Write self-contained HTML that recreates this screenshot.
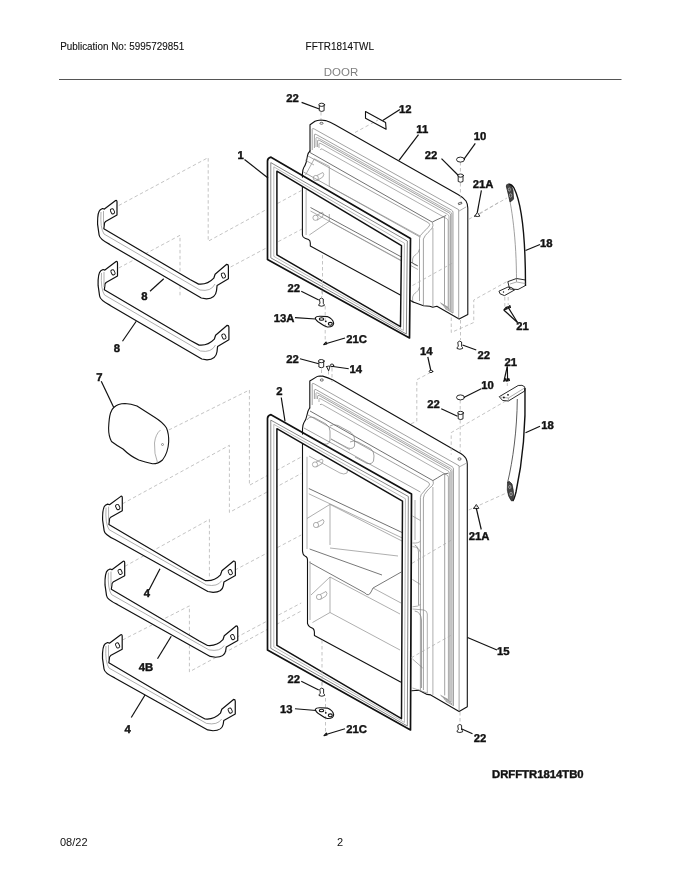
<!DOCTYPE html>
<html><head><meta charset="utf-8"><style>
html,body{margin:0;padding:0;background:#fff;}
body{width:680px;height:880px;overflow:hidden;position:relative;font-family:"Liberation Sans",sans-serif;}
svg{position:absolute;left:0;top:0;will-change:transform;}
.k{stroke:#111;stroke-width:1.1;fill:none;stroke-linejoin:round;stroke-linecap:round;}
.sh{stroke-width:1.2;fill:#fff;}
.th{stroke-width:0.9;}
.gk{stroke-width:1.7;}
.gs1{stroke:#777;stroke-width:0.9;fill:none;}
.gs2{stroke:#aaa;stroke-width:0.8;fill:none;}
.gi{stroke-width:1.5;}
.t{stroke:#333;stroke-width:0.7;fill:none;}
.g{stroke:#8c8c8c;stroke-width:0.7;fill:none;}
.g2{stroke:#7a7a7a;stroke-width:0.7;fill:none;}
.t2{stroke:#555;stroke-width:0.8;fill:none;}
.d{stroke:#aaa;stroke-width:0.7;fill:none;stroke-dasharray:3.5 2.5;}
.ld{stroke:#111;stroke-width:1.2;fill:none;}
.lb{text-rendering:geometricPrecision;stroke:#111;stroke-width:0.4;font-family:"Liberation Sans",sans-serif;font-weight:bold;font-size:11.3px;fill:#111;}
.hd{font-family:"Liberation Sans",sans-serif;font-size:11px;fill:#111;}
</style></head><body>
<svg width="680" height="880" viewBox="0 0 680 880">
<text x="60.2" y="49.8" textLength="124" lengthAdjust="spacingAndGlyphs" style="font-family:'Liberation Sans',sans-serif;font-size:11.1px;fill:#111;stroke:#111;stroke-width:0.12">Publication No: 5995729851</text>
<text x="305.6" y="49.8" textLength="68.4" lengthAdjust="spacingAndGlyphs" style="font-family:'Liberation Sans',sans-serif;font-size:11.1px;fill:#111;stroke:#111;stroke-width:0.12">FFTR1814TWL</text>
<text x="323.8" y="75.6" textLength="34.4" lengthAdjust="spacingAndGlyphs" style="font-family:'Liberation Sans',sans-serif;font-size:11.6px;fill:#808080;">DOOR</text>
<line x1="59" y1="79.5" x2="621.5" y2="79.5" stroke="#555" stroke-width="1"/>
<text class="hd" x="60" y="845.5">08/22</text>
<text class="hd" x="337" y="845.5">2</text>
<text x="492" y="777.5" class="lb" style="font-size:11.3px">DRFFTR1814TB0</text>
<polyline class="d" points="118.75,205.5 208.2,157.6 208.2,241.2 301.2,190.6"/>
<polyline class="d" points="230.6,267 303.5,228.2"/>
<polyline class="d" points="118.75,268 180,235.3 180,295.3"/>
<polyline class="d" points="168.75,430 249.4,390 249.4,485.3 301.2,457"/>
<polyline class="d" points="122.5,503.75 229.4,445.3 229.4,512.4 301.2,473.5"/>
<polyline class="d" points="235,570 301.2,535"/>
<polyline class="d" points="125,566.25 209.4,519.4 209.4,577.6"/>
<polyline class="d" points="236.25,637.5 301.2,603"/>
<polyline class="d" points="122.5,640 189.4,605.9 189.4,671.8 301.2,611"/>
<path class="k sh" d="M117,215 L105.6,221.5 Q104,223 104.4,224.5 L103.8,228.8 L190,279.5 L198.6,284.1 Q207.5,285 213.8,278.2 L215.1,274.2 L226.7,264.3 Q228.4,264.3 228.4,266 L228.4,278.8 L217.1,285.4 L216.5,290.7 Q215.5,298.5 206.5,298.8 L201.3,298 L109.7,244.4 Q99.5,239 99.1,235 L97.6,224.4 Q97.3,212 100.3,209.7 L102.6,208.5 L104.4,209.1 L115.6,200.6 Q117,200 117,202 Z"/>
<path class="g" d="M101,212 Q100,228 104,234 L200,290 Q211,292 215,284"/>
<path class="g" d="M103.5,211 L103.5,226"/>
<rect class="k th" x="110.8" y="208.7" width="3.4" height="5.2" rx="1.5" transform="rotate(-25 112.5 211.3)"/>
<rect class="k th" x="221.7" y="272.9" width="3.4" height="5.2" rx="1.5" transform="rotate(-25 223.4 275.5)"/>
<path class="k sh" d="M117.5,276 L106.1,282.5 Q104.5,284 104.9,285.5 L104.3,289.8 L190.5,340.5 L199.1,345.1 Q208,346 214.3,339.2 L215.6,335.2 L227.2,325.3 Q228.9,325.3 228.9,327 L228.9,339.8 L217.6,346.4 L217,351.7 Q216,359.5 207,359.8 L201.8,359 L110.2,305.4 Q100,300 99.6,296 L98.1,285.4 Q97.8,273 100.8,270.7 L103.1,269.5 L104.9,270.1 L116.1,261.6 Q117.5,261 117.5,263 Z"/>
<path class="g" d="M101.5,273 Q100.5,289 104.5,295 L200.5,351 Q211.5,353 215.5,345"/>
<path class="g" d="M104,272 L104,287"/>
<rect class="k th" x="111.3" y="269.7" width="3.4" height="5.2" rx="1.5" transform="rotate(-25 113 272.3)"/>
<rect class="k th" x="222.2" y="333.9" width="3.4" height="5.2" rx="1.5" transform="rotate(-25 223.9 336.5)"/>
<path class="k sh" d="M122.29,510.77 L110.72,517.17 Q109.1,518.66 109.5,520.16 L108.89,524.45 L196.39,575.9 L205.11,580.58 Q214.15,581.56 220.54,574.81 L221.86,570.82 L233.64,561.02 Q235.36,561.04 235.36,562.74 L235.36,575.54 L223.89,582.04 L223.28,585.83 Q222.27,592.13 213.13,592.35 L207.86,591.5 L114.88,539.51 Q104.53,534.62 104.12,530.61 L102.6,520 Q102.3,507.6 105.34,505.32 L107.67,504.14 L109.5,504.76 L120.87,496.36 Q122.29,495.77 122.29,497.77 Z"/>
<path class="g" d="M106.05,507.63 Q105.04,523.62 109.1,529.66 L206.54,584.99 Q217.7,587.09 221.76,580.62"/>
<path class="g" d="M108.59,506.65 L108.59,521.65"/>
<rect class="k th" x="116.02" y="504.43" width="3.4" height="5.2" rx="1.5" transform="rotate(-25 117.72 507.03)"/>
<rect class="k th" x="228.59" y="569.59" width="3.4" height="5.2" rx="1.5" transform="rotate(-25 230.29 572.19)"/>
<path class="k sh" d="M124.69,575.67 L113.12,582.07 Q111.5,583.56 111.9,585.06 L111.29,589.35 L198.79,640.8 L207.51,645.48 Q216.55,646.46 222.94,639.71 L224.26,635.72 L236.04,625.92 Q237.76,625.94 237.76,627.64 L237.76,640.44 L226.29,646.94 L225.68,650.73 Q224.67,657.03 215.53,657.25 L210.26,656.4 L117.28,604.41 Q106.93,599.52 106.52,595.51 L105,584.9 Q104.7,572.5 107.74,570.22 L110.08,569.04 L111.9,569.66 L123.27,561.26 Q124.69,560.67 124.69,562.67 Z"/>
<path class="g" d="M108.45,572.53 Q107.44,588.52 111.5,594.56 L208.94,649.89 Q220.1,651.99 224.16,645.52"/>
<path class="g" d="M110.99,571.55 L110.99,586.55"/>
<rect class="k th" x="118.42" y="569.33" width="3.4" height="5.2" rx="1.5" transform="rotate(-25 120.12 571.93)"/>
<rect class="k th" x="230.99" y="634.49" width="3.4" height="5.2" rx="1.5" transform="rotate(-25 232.69 637.09)"/>
<path class="k sh" d="M122.19,649.17 L110.62,655.57 Q109,657.06 109.4,658.56 L108.79,662.85 L196.29,714.3 L205.01,718.98 Q214.05,719.96 220.44,713.21 L221.76,709.22 L233.54,699.42 Q235.26,699.44 235.26,701.14 L235.26,713.94 L223.79,720.44 L223.18,724.23 Q222.17,730.53 213.03,730.75 L207.76,729.9 L114.78,677.91 Q104.43,673.02 104.02,669.01 L102.5,658.4 Q102.2,646 105.24,643.72 L107.58,642.54 L109.4,643.16 L120.77,634.76 Q122.19,634.17 122.19,636.17 Z"/>
<path class="g" d="M105.95,646.03 Q104.94,662.02 109,668.06 L206.44,723.39 Q217.6,725.49 221.66,719.02"/>
<path class="g" d="M108.49,645.05 L108.49,660.05"/>
<rect class="k th" x="115.92" y="642.83" width="3.4" height="5.2" rx="1.5" transform="rotate(-25 117.62 645.43)"/>
<rect class="k th" x="228.49" y="707.99" width="3.4" height="5.2" rx="1.5" transform="rotate(-25 230.19 710.59)"/>
<path class="k" d="M310,151 L310,124.7 L315,121.2 Q317,120.2 320.9,120 L325.6,120.6 Q330,122 335,124.7 L458,194.5 Q463.5,197.5 466,201 Q467.8,204 467.8,208 L467.8,314.5 L459.1,319.1 L436.9,306.3 L432.8,307.3 L429.7,306.3 L423.5,305.7 L413.2,302.1"/>
<path class="k" d="M310,151 Q308,153 307.5,155.5 L306.3,162 Q305,166 303.8,167.5 Q302.4,170 302.4,174 L302.4,235 Q302.6,237.6 305,238.3 L308.5,239.6 Q310.3,240.5 310.3,243 L310.3,246 L413.2,302.1"/>
<ellipse class="t" cx="321.5" cy="123.3" rx="1.6" ry="1"/>
<rect class="t" x="458.4" y="202.6" width="3.4" height="1.6" transform="rotate(-20 460 203.4)"/>
<path class="g2" d="M312.2,150 L312.2,129.32 Q312.2,127.82 314.2,128.94 L458.7,209.67 L458.7,318.87"/>
<path class="g2" d="M314.4,148 L314.4,134.95 Q314.4,133.45 316.4,134.57 L451.5,210.05 Q453,210.89 453,212.39 L453,313.08 L445,308.46"/>
<path class="g" d="M316,147 L316,138.24 Q316,136.74 318,137.86 L450.3,211.78 Q451.8,212.61 451.8,214.11 L451.8,311.39 L443.8,306.77"/>
<path class="g2" d="M317.6,147 L317.6,140.84 Q317.6,139.34 319.6,140.45 L449.1,212.81 Q450.6,213.64 450.6,215.14 L450.6,309.7 L442.6,305.08"/>
<path class="g" d="M319,148 L319,144.02 Q319,142.52 321,143.64 L447.5,214.31 Q449,215.15 449,216.65 L449,308.27 L441,303.66"/>
<path class="g" d="M320.5,150 L320.5,149.66 Q320.5,148.16 322.5,149.27 L446.7,218.67 Q448.2,219.5 448.2,221 L448.2,307.31 L440.2,302.69"/>
<path class="g2" d="M444.5,217 L444.5,304.7"/>
<path class="g" d="M419.5,249 Q418.5,253 416,254.5 Q413,256 412.6,259 L412.6,263 Q414,265 417,265.5 M419.5,287 Q418.5,291 416,292.5 Q413,294 412.6,297 L412.6,301"/>
<path class="g" d="M459.1,211 L466.3,206.8"/>
<path class="t" d="M310,152.5 L432.2,222.1 Q436,220 443.2,216.9 L446.2,215.4"/>
<path class="g2" d="M308,156 L428.5,222.8 Q430.5,224.5 429.3,225.8 Q428,227.5 426.3,229.4 Q423,232 422.6,233.1 Q419.5,235.5 419.5,238.5 L419.5,301"/>
<path class="g2" d="M432.5,222.3 Q433.6,226 432.2,228 Q430.7,230.1 428,232.5 Q424.9,235.3 423.4,239 L423.4,305.7"/>
<path class="g2" d="M303.5,172 L419.7,236.8"/>
<path class="g" d="M432.9,228 L432.9,307.2"/>
<path class="g" d="M314.3,158.8 L329.3,166.3 L329.3,186.3 L420,236"/>
<path class="g" d="M305.5,175 L314.3,158.8"/>
<path class="g" d="M306.1,190 L306.1,235"/>
<path class="t" d="M310.5,207.5 L418,266"/>
<path class="g" d="M310.5,211 L418,269.5"/>
<path class="g" d="M309.3,235 L329.3,221.3 L405,263"/>
<path class="g" d="M329.3,221.3 L329.3,214"/>
<path class="g" d="M305,160 L314,165"/>
<ellipse class="g" cx="315.8" cy="178" rx="2.6" ry="2.6"/>
<path class="g" d="M316.8,175.6 L322.8,172.5 Q324.8,174 322.8,177 L317.3,180.4"/>
<ellipse class="g" cx="315.5" cy="217.8" rx="2.6" ry="2.6"/>
<path class="g" d="M316.5,215.4 L322.5,212.3 Q324.5,213.8 322.5,216.8 L317.0,220.20000000000002"/>
<path fill="#fff" fill-rule="evenodd" stroke="none" d="M 267.5,158 410.5,238.5 409.5,338 267.5,259.5Z M 276.9,171.16 401.48,245.55 400.48,326.72 276.9,254.8Z"/>
<path class="k gk" d="M267.5,161 Q267.5,158 271,157.2 L410.5,238.5 L409.5,338 L267.5,259.5 Z"/>
<polygon class="gs1" points="270.8,162.62 407.33,240.98 406.33,334.04 270.8,257.85"/>
<polygon class="gs2" points="273.8,166.82 404.45,243.22 403.45,330.44 273.8,256.35"/>
<polygon class="k gi" points="276.9,171.16 401.48,245.55 400.48,326.72 276.9,254.8"/>
<path class="k" d="M309.8,408 L309.8,381 L317,376.6 Q318,376 320,376 L322.7,376.1 Q328,377.5 333,380 L458,452 Q464,455 466,458.5 Q467.3,461 467.3,464 L467.3,706.7 L459.1,711.4 L430.7,694.9 L427.1,694.4 L418.9,690.2 L411.7,690.8"/>
<path class="k" d="M309.6,408 Q307.5,411 307,415 Q306,420 304,422.5 Q302.5,425 302.5,429 L302.5,551 Q303,555 304.4,555.6 L306.5,557 Q307.5,558 307.5,560 L307.5,623.5 Q308.5,626.5 310,627 L313,628.5 Q314.4,630 314.4,632 L314.4,635.5 L400.6,682"/>
<ellipse class="t" cx="321.8" cy="380" rx="1.6" ry="1.1"/>
<ellipse class="t" cx="459.5" cy="459" rx="1.6" ry="1.2"/>
<path class="g2" d="M312.2,405 L312.2,384.18 Q312.2,382.68 314.2,383.81 L459.1,465.82 L459.1,711.4"/>
<path class="g2" d="M314.4,399 L314.4,390.22 Q314.4,388.72 316.4,389.85 L452,466.6 Q453.5,467.45 453.5,468.95 L453.5,705.67 L445.5,701.05"/>
<path class="g" d="M316,399 L316,393.53 Q316,392.03 318,393.16 L450.6,468.21 Q452.1,469.06 452.1,470.56 L452.1,703.86 L444.1,699.25"/>
<path class="g2" d="M317.6,399 L317.6,396.13 Q317.6,394.63 319.6,395.76 L449.4,469.23 Q450.9,470.08 450.9,471.58 L450.9,702.17 L442.9,697.55"/>
<path class="g" d="M319,402 L319,399.32 Q319,397.82 321,398.96 L447.8,470.72 Q449.3,471.57 449.3,473.07 L449.3,700.75 L441.3,696.13"/>
<path class="g" d="M320.5,404 L320.5,404.97 Q320.5,403.47 322.5,404.61 L446.9,475.02 Q448.4,475.86 448.4,477.36 L448.4,699.73 L440.4,695.11"/>
<path class="g2" d="M444.7,474.5 L444.7,695.4"/>
<path class="g" d="M412.5,516 L420.4,520.5 M412.5,543 Q418.5,543.5 420.4,541 M412.5,546.6 Q419,547 420.4,552.3 M412.5,606.8 Q419,606.5 420.4,604.5 M412.5,609 L424,610 Q427.3,611 427.3,614 L427.3,693 M412.5,579.5 L420.4,584.5 M412.5,659 L422.7,668 M412.5,688 L427.3,693"/>
<path class="g" d="M459.1,467 L466.4,463.2"/>
<path class="t" d="M310,411 L432.9,480.6 Q436.5,478.5 443.2,474.3 L448.4,473.2"/>
<path class="g2" d="M308,415 L428.5,482.4 Q430.5,484 428.8,486 Q425,489.5 423.5,492 Q420.4,494.5 420.4,497.5 L420.4,690"/>
<path class="g2" d="M433,480.8 Q434,483.5 432.5,485.5 Q428.5,489 427,491 Q423.6,494.5 423.4,498 L423.4,690"/>
<path class="g2" d="M304,428 L420.4,492"/>
<path class="g" d="M432.9,487 L432.9,694.9"/>
<path class="g2" d="M307,420 Q309,416 314,417.5 L326,424 Q330,426.5 330,431 L330,440 Q329.5,445 324,444 L308,436"/>
<path class="g2" d="M330,426 Q333,423.5 338,425.5 L351,432.5 Q354.7,435 354.7,440 L354.5,446 Q353,449.5 348,448 L331,439"/>
<path class="g2" d="M350,442 Q353,440 358,442 L371,449 Q374,451.5 374,456 L373.5,461 Q372,464.5 367,463.5 L355,457"/>
<path class="g" d="M307,446 L345,467 Q349,470 347,473 Q344,475 340,473 L309,456"/>
<path class="g" d="M308,440 L330,452 M331,439 L350,450"/>
<path class="t" d="M308.8,488.5 L402.3,532.6"/>
<path class="g" d="M308.8,493.8 L402.3,538"/>
<path class="g" d="M307,518.5 L330,504.4 L330,545"/>
<path class="g" d="M330,504.4 L402,541"/>
<path class="t2" d="M309.6,549 L382,575 M309.6,562.5 L365,593 Q368.5,597 371,592 L373,588 L401.3,572"/>
<path class="g" d="M330,548 L398,556 M373,588 L401,603"/>
<path class="g" d="M310,561 L310,620"/>
<path class="g" d="M311,595 L330,577 L330,612.5 L312.5,622.5 M330,612.5 L400,650"/>
<path class="g" d="M330,577 L400,614"/>
<path class="g" d="M307,456.8 L307,549"/>
<path class="g2" d="M414.7,545 Q418,546 418.5,552 L418.5,605 M414.7,611 Q421,612 421.5,620 L421.5,688"/>
<path class="g" d="M415,500 L415,540"/>
<ellipse class="g" cx="315" cy="464.5" rx="2.6" ry="2.6"/>
<path class="g" d="M316,462.1 L322,459.0 Q324,460.5 322,463.5 L316.5,466.9"/>
<ellipse class="g" cx="316" cy="525" rx="2.6" ry="2.6"/>
<path class="g" d="M317,522.6 L323,519.5 Q325,521 323,524 L317.5,527.4"/>
<ellipse class="g" cx="319" cy="597" rx="2.6" ry="2.6"/>
<path class="g" d="M320,594.6 L326,591.5 Q328,593 326,596 L320.5,599.4"/>
<path class="k" fill="#fff" d="M113.75,407.5 Q118,403.5 125,403.5 Q131,403.8 137,406 L155,417.5 Q163,422.5 166.5,428 Q169,434 168.7,442 Q168,453 162.5,460 Q158,464 152.5,463.8 Q145,462 138.75,460 Q130,456 123,449 Q116,445 111.5,441.5 Q108.5,436 108.6,428 Q109,418 110.5,413 Q111.5,409.5 113.75,407.5 Z"/>
<path class="g" d="M160.5,430 Q155.5,434 154.5,443 Q154,454 157.5,462.5"/>
<circle cx="162.5" cy="444.5" r="1" fill="none" stroke="#555" stroke-width="0.6"/>
<path fill="#fff" fill-rule="evenodd" stroke="none" d="M 267.5,415.5 411.5,494 410.5,730 267.5,650Z M 276.9,428.66 402.48,501.05 401.48,718.72 276.9,645.3Z"/>
<path class="k gk" d="M267.5,418.5 Q267.5,415.5 271,414.7 L411.5,494 L410.5,730 L267.5,650 Z"/>
<polygon class="gs1" points="270.8,420.12 408.33,496.48 407.33,726.04 270.8,648.35"/>
<polygon class="gs2" points="273.8,424.32 405.45,498.72 404.45,722.44 273.8,646.85"/>
<polygon class="k gi" points="276.9,428.66 402.48,501.05 401.48,718.72 276.9,645.3"/>
<polyline class="d" points="321,112 321,120"/>
<polyline class="d" points="322.5,255 322.5,296"/>
<polyline class="d" points="322,640 322,686"/>
<polyline class="d" points="355,132.5 378,120"/>
<polyline class="d" points="460.4,162 460.4,173"/>
<polyline class="d" points="460.4,183 460.4,200"/>
<polyline class="d" points="479.9,213.8 500,201.6"/>
<polyline class="d" points="468.7,219.3 507,198"/>
<polyline class="d" points="321.8,290 321.8,297"/>
<polyline class="d" points="325.2,306 325.2,341"/>
<polyline class="d" points="321.5,369.5 321.5,376"/>
<polyline class="d" points="328.5,371 328.5,377"/>
<polyline class="d" points="332,368 332,382"/>
<polyline class="d" points="451.25,317.5 451.25,332.5 473.75,322.5 473.75,300 507.5,281.25"/>
<polyline class="d" points="460.5,320 460.5,340"/>
<polyline class="d" points="430.7,372.4 416.8,379.7 416.8,421.2 410.6,424"/>
<polyline class="d" points="412.5,285.5 452.3,263.2"/>
<polyline class="d" points="412,563.3 451.1,540.3"/>
<polyline class="d" points="411.2,657.8 451.3,635.1"/>
<polyline class="d" points="504.8,297 504.8,307"/>
<polyline class="d" points="508.2,297 508.2,305"/>
<polyline class="d" points="507.3,383 507.3,386"/>
<polyline class="d" points="460.2,400 460.2,411"/>
<polyline class="d" points="460.2,420 460.2,452"/>
<polyline class="d" points="468.75,510 507.5,492.5"/>
<polyline class="d" points="505.9,400.9 451.2,432.6 451.2,454.7"/>
<polyline class="d" points="322,682 322,687"/>
<polyline class="d" points="325.5,698 325.5,733"/>
<polyline class="d" points="460,712 460,723"/>
<path class="k th" fill="#fff" d="M319.3,105.8 L319.3,110.7 Q321.7,112.2 324.1,110.7 L324.1,105.8"/>
<ellipse class="k th" fill="#fff" cx="321.7" cy="104.8" rx="2.9" ry="1.6"/>
<polygon class="k" fill="#fff" points="365.5,111.5 385.6,122.5 386.1,129.2 365.5,118.2"/>
<ellipse class="k th" fill="#fff" cx="460.5" cy="159.6" rx="4" ry="2.5"/>
<path class="k th" fill="#fff" d="M458.2,176.6 L458.2,181.5 Q460.6,183 463,181.5 L463,176.6"/>
<ellipse class="k th" fill="#fff" cx="460.6" cy="175.6" rx="2.9" ry="1.6"/>
<path class="k th" fill="#fff" d="M474.8,216.1 L477.3,212.3 L479.9,216.1 Q477.3,217.1 474.8,216.1 Z"/>
<path fill="#fff" stroke="none" d="M506.3,186 Q506,183.5 508.5,184 Q512,184.5 514,188 C520,200 525.5,225 525.5,284.5 L517,286 L517,281 C517,240 512,205 506.3,186 Z"/>
<path fill="none" stroke="#111" stroke-width="1.4" d="M508.5,184 Q512,184.5 514,188 C520,200 525.5,225 525.5,286"/>
<path fill="none" stroke="#777" stroke-width="0.7" d="M506.3,186 C512,205 516.5,240 516.5,281"/>
<path fill="#444" stroke="#111" stroke-width="0.6" d="M506.3,186 Q506.2,183.8 508.6,184.2 Q511.8,185 513,190 L513.6,199 Q511.5,201.5 510,202 Q508.5,194 506.3,186 Z"/>
<ellipse cx="509.3" cy="189.5" rx="1.1" ry="1.6" fill="none" stroke="#ccc" stroke-width="0.6"/><ellipse cx="510.6" cy="195.5" rx="1.2" ry="1.8" fill="none" stroke="#ccc" stroke-width="0.6"/>
<path class="k th" fill="#fff" d="M508.2,281.5 L516.5,278.5 L525.5,280 L525.5,285.5 L518,289.5 L510,289 Z"/>
<path class="g" d="M516.5,278.5 L516.5,282 L510,284 M516.5,282 L525.3,283.5"/>
<path class="k th" fill="#fff" d="M499.3,291 L508,287 L511.5,287.5 L514.5,290 L504.5,295.6 L500.5,294 Z"/>
<circle cx="503.5" cy="292" r="0.7" fill="#111"/><circle cx="508.6" cy="289.6" r="0.7" fill="#111"/>
<path class="k th" fill="#fff" d="M319.7,299 Q321.5,297 323.3,299 L323.3,303.5 Q324.5,304 324.3,305.5 Q321.5,307 318.7,305.5 Q318.5,304 319.7,303.5 Z"/>
<path class="k" fill="#fff" d="M315.3,317.8 Q316.3,316 320.3,316.2 L327.3,316.6 Q332.8,318.8 333.7,323.3 Q333.3,327.3 327.3,327 Q324.3,326.3 320.3,323.3 Q315.3,320.3 315.3,317.8 Z"/>
<ellipse class="k" cx="321.5" cy="319" rx="2.2" ry="1.3"/>
<ellipse class="k" cx="330.3" cy="323.8" rx="2" ry="1.4"/>
<circle cx="325.8" cy="321.3" r="0.9" fill="#111"/>
<path class="k" fill="#111" d="M323.7,344.7 L326,342 L326.7,344 Z"/>
<path class="k th" fill="#fff" d="M458,342 Q459.8,340 461.6,342 L461.6,346.5 Q462.8,347 462.6,348.5 Q459.8,350 457,348.5 Q456.8,347 458,346.5 Z"/>
<path class="k" fill="#111" d="M504,309.7 L506.3,307 L507,309 Z"/>
<path class="k" fill="#111" d="M507.5,308.2 L509.8,305.5 L510.5,307.5 Z"/>
<path class="k th" fill="#fff" d="M318.9,362.1 L318.9,367 Q321.3,368.5 323.7,367 L323.7,362.1"/>
<ellipse class="k th" fill="#fff" cx="321.3" cy="361.1" rx="2.9" ry="1.6"/>
<path class="k th" fill="#fff" d="M326.6,366.6 L328.6,370.8 L330,366.4 Q328.5,365.6 326.6,366.6 Z"/><ellipse class="k th" fill="#fff" cx="332" cy="365.4" rx="1.7" ry="1.4"/>
<ellipse class="k th" fill="#fff" cx="431" cy="371.4" rx="1.8" ry="1.2"/>
<path class="k" fill="#111" d="M503.5,381.2 L505.8,378.5 L506.5,380.5 Z"/>
<path class="k" fill="#111" d="M506.5,381.2 L508.8,378.5 L509.5,380.5 Z"/>
<ellipse class="k th" fill="#fff" cx="460.5" cy="397.4" rx="4" ry="2.5"/>
<path class="k th" fill="#fff" d="M458.2,413.9 L458.2,418.8 Q460.6,420.3 463,418.8 L463,413.9"/>
<ellipse class="k th" fill="#fff" cx="460.6" cy="412.9" rx="2.9" ry="1.6"/>
<path fill="#fff" stroke="none" d="M517.3,399 L524.5,391 C525.5,420 524,455 516,492 Q514,500 512.7,501 L507.5,483 C513,460 517,430 517.3,399 Z"/>
<path fill="none" stroke="#111" stroke-width="1.4" d="M525,388 C525.8,420 524,455 516,492 Q514,500 512.7,501"/>
<path fill="none" stroke="#333" stroke-width="0.8" d="M517.3,399 C517,430 513,460 507.5,483"/>
<path class="k th" fill="#fff" d="M499.6,396.5 L518.2,385.5 Q522.5,384.5 524.7,386.8 L524.7,391 L508.4,401 L503,400.5 Z"/>
<path class="g" d="M508.4,401 L508.4,398 L499.8,397 M508.4,398 L524.5,388"/>
<circle cx="503.9" cy="397.5" r="0.9" fill="#111"/><circle cx="508" cy="394.8" r="0.9" fill="#111"/>
<path fill="#444" stroke="#111" stroke-width="0.6" d="M507.5,483 Q508,481 509.5,481.5 L512,484 Q514.5,492 513.2,500.5 L511.5,501 Q508,497 507.3,490 Z"/>
<ellipse cx="509.8" cy="487" rx="1.1" ry="1.6" fill="none" stroke="#ccc" stroke-width="0.6"/><ellipse cx="511" cy="494" rx="1.2" ry="1.8" fill="none" stroke="#ccc" stroke-width="0.6"/>
<path class="k th" fill="#fff" d="M473.8,508.3 L476.3,504.5 L478.9,508.3 Q476.3,509.3 473.8,508.3 Z"/>
<path class="k th" fill="#fff" d="M320,689 Q321.8,687 323.6,689 L323.6,693.5 Q324.8,694 324.6,695.5 Q321.8,697 319,695.5 Q318.8,694 320,693.5 Z"/>
<path class="k" fill="#fff" d="M315.3,709.3 Q316.3,707.5 320.3,707.7 L327.3,708.1 Q332.8,710.3 333.7,714.8 Q333.3,718.8 327.3,718.5 Q324.3,717.8 320.3,714.8 Q315.3,711.8 315.3,709.3 Z"/>
<ellipse class="k" cx="321.5" cy="710.5" rx="2.2" ry="1.3"/>
<ellipse class="k" cx="330.3" cy="715.3" rx="2" ry="1.4"/>
<circle cx="325.8" cy="712.8" r="0.9" fill="#111"/>
<path class="k" fill="#111" d="M324,735.7 L326.3,733 L327,735 Z"/>
<path class="k th" fill="#fff" d="M458,725.3 Q459.8,723.3 461.6,725.3 L461.6,729.8 Q462.8,730.3 462.6,731.8 Q459.8,733.3 457,731.8 Q456.8,730.3 458,729.8 Z"/>
<line class="ld" x1="301.6" y1="102.4" x2="319.3" y2="109"/>
<line class="ld" x1="399.9" y1="109.6" x2="382.7" y2="120.6"/>
<line class="ld" x1="418.5" y1="134.7" x2="399" y2="160.4"/>
<line class="ld" x1="475.3" y1="143.3" x2="464" y2="159.1"/>
<line class="ld" x1="441.5" y1="158.6" x2="458.4" y2="175.5"/>
<line class="ld" x1="481.4" y1="190.3" x2="477.3" y2="212.3"/>
<line class="ld" x1="540" y1="244.5" x2="525.5" y2="250.5"/>
<line class="ld" x1="244.5" y1="159.5" x2="268" y2="178"/>
<line class="ld" x1="150" y1="291.25" x2="163.75" y2="278.75"/>
<line class="ld" x1="122.5" y1="341.25" x2="136.25" y2="321.25"/>
<line class="ld" x1="301.25" y1="291.25" x2="318.75" y2="300"/>
<line class="ld" x1="295" y1="317.6" x2="315.7" y2="319"/>
<line class="ld" x1="345" y1="338" x2="326.5" y2="343.5"/>
<line class="ld" x1="517.5" y1="322.5" x2="503.75" y2="310"/>
<line class="ld" x1="517.5" y1="322.5" x2="507.5" y2="306.25"/>
<line class="ld" x1="476.25" y1="350" x2="462.5" y2="345"/>
<line class="ld" x1="427.8" y1="356.9" x2="430.7" y2="370"/>
<line class="ld" x1="300" y1="358.75" x2="318.75" y2="363.75"/>
<line class="ld" x1="348.75" y1="368.75" x2="331.25" y2="366.25"/>
<line class="ld" x1="101.25" y1="381.25" x2="113.75" y2="407.5"/>
<line class="ld" x1="281.25" y1="397.5" x2="285" y2="421.25"/>
<line class="ld" x1="507.3" y1="366.4" x2="504.2" y2="380"/>
<line class="ld" x1="507.3" y1="366.4" x2="507.6" y2="380"/>
<line class="ld" x1="481.25" y1="388.75" x2="463.75" y2="397.5"/>
<line class="ld" x1="441.25" y1="408.75" x2="457.5" y2="416.25"/>
<line class="ld" x1="540" y1="426.25" x2="525.5" y2="432.7"/>
<line class="ld" x1="481.25" y1="529.5" x2="476.25" y2="508"/>
<line class="ld" x1="160" y1="568.75" x2="149" y2="590"/>
<line class="ld" x1="157.5" y1="658.75" x2="171.25" y2="636.25"/>
<line class="ld" x1="131.25" y1="717.5" x2="145" y2="695"/>
<line class="ld" x1="467.5" y1="637.5" x2="497" y2="650"/>
<line class="ld" x1="301.25" y1="681.25" x2="318.75" y2="690"/>
<line class="ld" x1="295" y1="708.75" x2="316.25" y2="710.5"/>
<line class="ld" x1="345" y1="728.75" x2="326" y2="734.5"/>
<line class="ld" x1="472.5" y1="733.75" x2="461.25" y2="728.75"/>
<text class="lb" x="286.2" y="101.9">22</text>
<text class="lb" x="398.9" y="113.2">12</text>
<text class="lb" x="416.3" y="132.5">11</text>
<text class="lb" x="473.7" y="140.2">10</text>
<text class="lb" x="424.8" y="158.5">22</text>
<text class="lb" x="472.7" y="188.3">21A</text>
<text class="lb" x="540" y="246.75">18</text>
<text class="lb" x="237.5" y="159.25">1</text>
<text class="lb" x="141.25" y="300">8</text>
<text class="lb" x="113.75" y="352">8</text>
<text class="lb" x="287.5" y="292">22</text>
<text class="lb" x="273.75" y="322">13A</text>
<text class="lb" x="346.25" y="342.5">21C</text>
<text class="lb" x="516.25" y="330">21</text>
<text class="lb" x="477.5" y="358.75">22</text>
<text class="lb" x="420" y="354.7">14</text>
<text class="lb" x="286.25" y="363">22</text>
<text class="lb" x="349.5" y="373">14</text>
<text class="lb" x="96.25" y="380.5">7</text>
<text class="lb" x="276.25" y="395">2</text>
<text class="lb" x="504.5" y="365.5">21</text>
<text class="lb" x="481.25" y="388.75">10</text>
<text class="lb" x="427.3" y="407.5">22</text>
<text class="lb" x="541.25" y="428.75">18</text>
<text class="lb" x="468.75" y="539.5">21A</text>
<text class="lb" x="143.75" y="597">4</text>
<text class="lb" x="138.75" y="670.5">4B</text>
<text class="lb" x="124.5" y="732.5">4</text>
<text class="lb" x="497" y="654.5">15</text>
<text class="lb" x="287.5" y="683">22</text>
<text class="lb" x="280" y="713">13</text>
<text class="lb" x="346.25" y="733">21C</text>
<text class="lb" x="473.75" y="742">22</text>
</svg></body></html>
